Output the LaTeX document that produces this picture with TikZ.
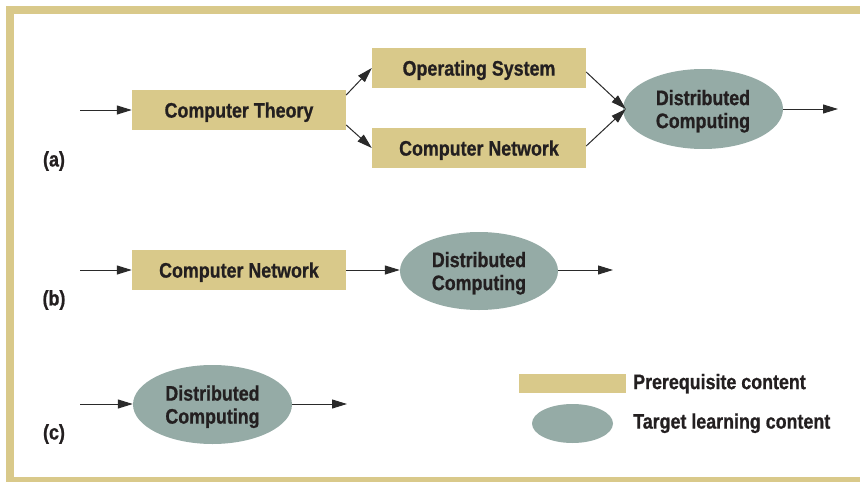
\documentclass[tikz,border=0pt]{standalone}
\usepackage{fontspec}
\setmainfont[FakeStretch=0.85, FakeBold=0.8]{Liberation Sans}
\usetikzlibrary{shapes.geometric,arrows.meta}
\definecolor{tan}{HTML}{D9C98A}
\definecolor{sage}{HTML}{95ABA6}
\definecolor{ink}{HTML}{231F20}
\definecolor{wire}{HTML}{2A2A2A}
\tikzset{
  labelfont/.style={font=\fontsize{21}{23}\selectfont\bfseries, text=ink},
  prereq/.style={rectangle, fill=tan, minimum width=214pt, minimum height=40pt,
    inner sep=0pt, text depth=0pt, labelfont},
  target/.style={ellipse, fill=sage, minimum width=160pt, minimum height=80pt,
    inner sep=0pt, align=center, text depth=0pt, labelfont},
  tag/.style={labelfont, inner sep=0pt},
  legendtext/.style={labelfont, inner sep=0pt, text depth=0pt, anchor=west},
  flow/.style={draw=wire, line width=1pt, -{Triangle[length=15pt,width=9pt]}},
}
\begin{document}
\begin{tikzpicture}[x=1pt,y=-1pt]
\useasboundingbox (0,0) rectangle (860,482);
% frame
\fill[tan] (6,6) rectangle (860,14);
\fill[tan] (6,6) rectangle (14,482);
\fill[tan] (6,477) rectangle (860,482);

% (a)
\node[tag] (la) at (54,161) {(a)};
\coordinate (ina) at (80,110);
\node[prereq] (ct) at (239,110) {Computer Theory};
\node[prereq] (os) at (479,68) {Operating System};
\node[prereq] (cna) at (479,148) {Computer Network};
\node[target] (dca) at (703,109) {Distributed\\Computing};
\coordinate (outa) at (838,109);
\draw[flow] (ina) -- (ct);
\draw[flow] ([yshift=15pt]ct.east) -- (os.west);
\draw[flow] ([yshift=-15pt]ct.east) -- (cna.west);
\draw[flow] ([yshift=-4pt]os.east) -- ([xshift=3pt]dca.west);
\draw[flow] ([yshift=2pt]cna.east) -- ([xshift=3pt]dca.west);
\draw[flow] (dca) -- (outa);

% (b)
\node[tag] (lb) at (54,300) {(b)};
\coordinate (inb) at (80,270);
\node[prereq] (cnb) at (239,270) {Computer Network};
\node[target, minimum width=158pt, minimum height=78pt] (dcb) at (479,271) {Distributed\\Computing};
\coordinate (outb) at (613,270);
\draw[flow] (inb) -- (cnb);
\draw[flow] (cnb.east) -- (dcb.west |- cnb.east);
\draw[flow] (dcb.east |- outb) -- (outb);

% (c)
\node[tag] (lc) at (54,434) {(c)};
\coordinate (inc) at (80,404);
\node[target, minimum width=159pt, minimum height=79pt] (dcc) at (212.5,404.5) {Distributed\\Computing};
\coordinate (outc) at (347,404);
\draw[flow] (inc) -- (dcc.west |- inc);
\draw[flow] (dcc.east |- outc) -- (outc);

% legend
\node[rectangle, fill=tan, minimum width=107pt, minimum height=19pt, inner sep=0pt] (kp) at (572.5,383.5) {};
\node[ellipse, fill=sage, minimum width=81pt, minimum height=39pt, inner sep=0pt] (kt) at (572.5,423.5) {};
\node[legendtext] (kpt) at (633,381.5) {Prerequisite content};
\node[legendtext] (ktt) at (633,421) {Target learning content};
\end{tikzpicture}
\end{document}
